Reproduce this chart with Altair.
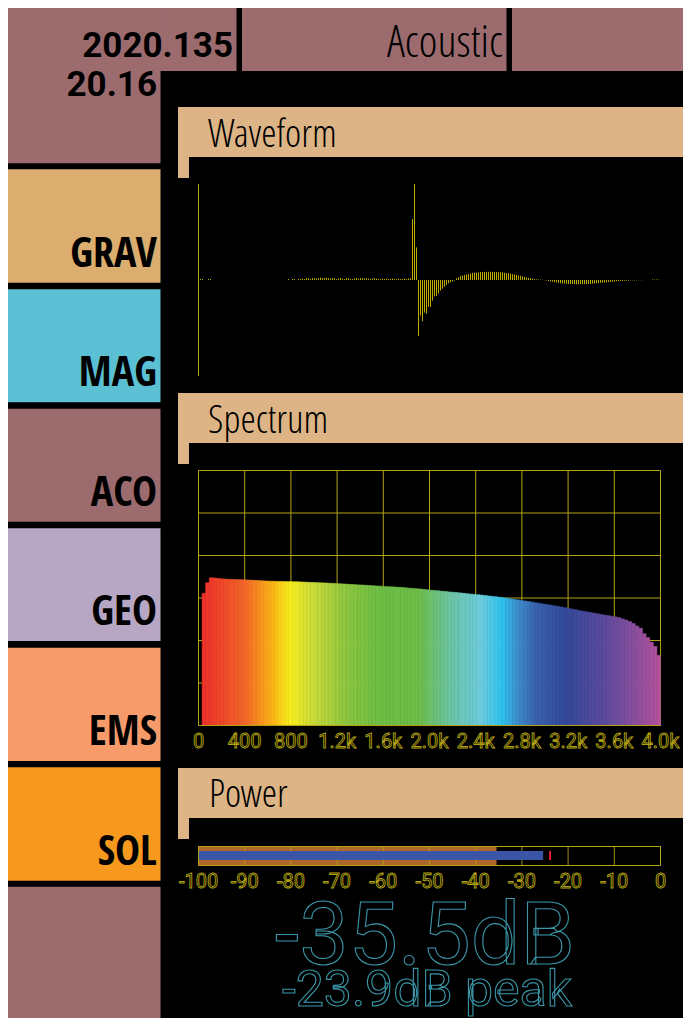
import altair as alt
import pandas as pd

# ---------------- data ----------------
header_date = "2020.135"
header_time = "20.16"
header_title = "Acoustic"
sensor_buttons = ["GRAV", "MAG", "ACO", "GEO", "EMS", "SOL"]
panel_titles = ["Waveform", "Spectrum", "Power"]

# waveform samples (normalised amplitude)
wave_lead = [0.0, 0.01, 0.01, 0.0, 0.0, 0.01, 0.01]
wave_quiet = [0.0, 0.0, 0.0, 0.0, 0.0, 0.0, 0.0, 0.0, 0.0, 0.0,
              0.0, 0.0, 0.0, 0.0, 0.0, 0.0, 0.0, 0.0, 0.0, 0.0,
              0.0, 0.0, 0.0, 0.0, 0.0, 0.0, 0.0, 0.0, 0.0, 0.0,
              0.0, 0.0, 0.0, 0.0, 0.0, 0.0, 0.0, 0.0]
wave_noise = [0.01, 0.0, 0.01, 0.01, 0.0, 0.01,
              0.01, 0.015, 0.01, 0.02, 0.015, 0.01, 0.02, 0.02, 0.015, 0.02,
              0.025, 0.02, 0.02, 0.025, 0.02, 0.015, 0.02, 0.02, 0.01, 0.015,
              0.02, 0.015, 0.01, 0.02, 0.015, 0.01, 0.01, 0.015, 0.02, 0.015,
              0.02, 0.02, 0.015, 0.02, 0.015, 0.01, 0.015, 0.02, 0.015, 0.01,
              0.01, 0.015, 0.01, 0.015, 0.01, 0.01, 0.015, 0.01, 0.01, 0.015,
              0.01, 0.01, 0.015, 0.01, 0.015, 0.02]
wave_event = [0.635, 1.0, 0.34, -0.583, -0.37, -0.43, -0.34, -0.35, -0.28, -0.28,
              -0.215, -0.17, -0.167, -0.14, -0.11, -0.09, -0.07, -0.052, -0.035, -0.024,
              -0.014, -0.005, 0.018, 0.028, 0.042, 0.047, 0.052, 0.058, 0.062, 0.068,
              0.073, 0.076, 0.078, 0.08, 0.082, 0.083, 0.084, 0.085, 0.085, 0.085,
              0.084, 0.084, 0.083, 0.082, 0.08, 0.078, 0.076, 0.073, 0.07, 0.066,
              0.062, 0.057, 0.052, 0.047, 0.042, 0.037, 0.032, 0.027, 0.022, 0.018,
              0.014, 0.01, 0.007, 0.005, 0.003, 0.002]
wave_tail = [-0.002, -0.005, -0.01, -0.014, -0.018, -0.022, -0.026, -0.03, -0.033, -0.036,
             -0.038, -0.04, -0.041, -0.042, -0.043, -0.043, -0.044, -0.044, -0.044, -0.043,
             -0.043, -0.042, -0.041, -0.04, -0.038, -0.036, -0.034, -0.032, -0.03, -0.028,
             -0.026, -0.024, -0.022, -0.02, -0.018, -0.016, -0.014, -0.012, -0.01, -0.009,
             -0.008, -0.007, -0.006, -0.005, -0.004, -0.004, -0.003, -0.003, -0.002, -0.002,
             0.0, 0.0, 0.0, 0.0, 0.005, 0.005, 0.005, 0.005, 0.0]
wave = wave_lead + wave_quiet + wave_noise + wave_event + wave_tail

sample_rate = 8000
fft_size = 256
spectrum_level = [
    0.0, 31.1, 33.6, 34.75, 34.7, 34.6, 34.5, 34.45, 34.4, 34.37,
    34.33, 34.3, 34.28, 34.25, 34.2, 34.15, 34.1, 34.05, 34.0, 33.97,
    33.93, 33.9, 33.88, 33.86, 33.85, 33.83, 33.82, 33.8, 33.76, 33.72,
    33.68, 33.65, 33.62, 33.58, 33.55, 33.51, 33.48, 33.43, 33.38, 33.33,
    33.28, 33.23, 33.18, 33.13, 33.08, 33.03, 32.98, 32.93, 32.88, 32.83,
    32.78, 32.72, 32.67, 32.62, 32.57, 32.52, 32.46, 32.38, 32.32, 32.26,
    32.18, 32.1, 32.0, 31.92, 31.84, 31.76, 31.68, 31.6, 31.52, 31.44,
    31.36, 31.28, 31.19, 31.1, 31.0, 30.92, 30.83, 30.75, 30.67, 30.57,
    30.47, 30.37, 30.27, 30.16, 30.04, 29.93, 29.8, 29.68, 29.55, 29.42,
    29.28, 29.15, 29.02, 28.88, 28.75, 28.6, 28.47, 28.33, 28.18, 28.03,
    27.88, 27.73, 27.57, 27.4, 27.23, 27.05, 26.9, 26.75, 26.6, 26.45,
    26.3, 26.15, 26.0, 25.85, 25.7, 25.55, 25.4, 25.1, 24.8, 24.45,
    24.0, 23.4, 22.9, 21.6, 20.7, 19.6, 18.6, 16.5]
spectrum_ticks = [0, 400, 800, 1200, 1600, 2000, 2400, 2800, 3200, 3600, 4000]
spectrum_tick_labels = ["0", "400", "800", "1.2k", "1.6k", "2.0k", "2.4k",
                        "2.8k", "3.2k", "3.6k", "4.0k"]
spectrum_grid_levels = [0, 10, 20, 30, 40, 50, 60]
rainbow_freq = [0, 400, 640, 790, 1000, 1280, 1570, 1900, 2190, 2450, 2630,
                2770, 2920, 3180, 3480, 3710, 4000]
rainbow_colors = ["#ee2a2b", "#f2662a", "#fbb316", "#f9ed1d", "#c8da3a", "#8dc63f",
                  "#6dbd45", "#6dbd48", "#6cc4a6", "#6ccbdc", "#2ec3ef", "#3d8ccb",
                  "#3a62ad", "#33489a", "#574a9c", "#7c4f9e", "#b5519b"]

power_level_db = -35.5
power_rms_db = -25.4
power_peak_db = -23.9
power_ticks = [-100, -90, -80, -70, -60, -50, -40, -30, -20, -10, 0]

# ---------------- styles / layout (page pixels) ----------------
OX, OY = 8, 8
W, H = 675, 1010
def P(x):
    return x - OX
def Q(y):
    return y - OY

MAUVE = "#9c6b6e"
TAN = "#dcb486"
YEL = "#b3a312"
WAVE_COL = "#bcad00"
TEAL = "#3a98aa"
NARROW_BOLD = "Open Sans Condensed, DejaVu Sans Condensed, sans-serif"
NARROW_LIGHT = "Open Sans Condensed Light, DejaVu Sans Condensed, sans-serif"
ROBOTO = "Roboto, sans-serif"

button_colors = ["#dbad6e", "#5bc0d3", MAUVE, "#b8a7c4", "#f89b6a", "#f7981f"]
button_tops = [169.3, 289.3, 408.7, 528.3, 647.7, 767.3]
button_bottoms = [282.7, 402.3, 521.7, 641.0, 761.0, 880.7]

rects = [
    (8, 8, 236.5, 71, MAUVE),
    (8, 8, 160.5, 163.3, MAUVE),
    (242, 8, 506.5, 71, MAUVE),
    (512, 8, 700, 71, MAUVE),
    (8, 886.7, 160.5, 1040, MAUVE),
]
for c, t, b in zip(button_colors, button_tops, button_bottoms):
    rects.append((8, t, 160.5, b, c))
panel_heads = [(107, 157, 178, 184, 375), (393, 443, 464, 470, 751), (768, 818, 839, 846, 1040)]
for top, bot, tab, bar0, bar1 in panel_heads:
    rects.append((178, top, 700, bot, TAN))
    rects.append((178, bot, 189, tab, TAN))
    rects.append((688, bot, 700, tab + 1, TAN))
    rects.append((688, bar0, 700, bar1, TAN))
frame_df = pd.DataFrame([(P(a), Q(b), P(c), Q(d), e) for a, b, c, d, e in rects],
                        columns=["x", "y", "x2", "y2", "c"])

frame = alt.Chart(frame_df).mark_rect().encode(
    x=alt.X("x:Q", scale=None, axis=None), x2="x2:Q",
    y=alt.Y("y:Q", scale=None, axis=None), y2="y2:Q",
    color=alt.Color("c:N", scale=None, legend=None))

def text_layer(rows, **kw):
    df = pd.DataFrame(rows, columns=["x", "y", "t"])
    return alt.Chart(df).mark_text(baseline="alphabetic", **kw).encode(
        x=alt.X("x:Q", scale=None, axis=None),
        y=alt.Y("y:Q", scale=None, axis=None),
        text="t:N")

head_nums = text_layer([(P(233), Q(57), header_date), (P(157), Q(95.5), header_time)],
                       align="right", font=ROBOTO, fontSize=35, fontWeight="bold", color="#000000")
head_title = text_layer([(P(503), Q(56.5), header_title)],
                        align="right", font=NARROW_LIGHT, fontSize=45, fontWeight=300, color="#000000")
side_labels = text_layer([(P(157), Q(b - 16), s) for s, b in zip(sensor_buttons, button_bottoms)],
                         align="right", font=NARROW_BOLD, fontSize=42, fontWeight="bold", color="#000000")
titles = text_layer([(P(208), Q(147), panel_titles[0]), (P(208), Q(433), panel_titles[1]),
                     (P(209), Q(807), panel_titles[2])],
                    align="left", font=NARROW_LIGHT, fontSize=39, fontWeight=300, color="#000000")

# ---------------- waveform ----------------
wave_df = pd.DataFrame({"sample": list(range(len(wave))), "amp": wave})
wave_df["base"] = 0.0
wx = alt.Scale(domain=[0, len(wave) - 1], range=[P(198) + 0.5, P(660) + 0.5], nice=False, zero=False)
wy = alt.Scale(domain=[-1, 1], range=[Q(376), Q(184)], nice=False, zero=False)
wave_axis = alt.Chart(pd.DataFrame({"sample": [0], "lo": [-1], "hi": [1]})).mark_rule(
    color=YEL, strokeWidth=1).encode(
    x=alt.X("sample:Q", scale=wx, axis=None),
    y=alt.Y("lo:Q", scale=wy, axis=None), y2="hi:Q")
wave_bars = alt.Chart(wave_df).mark_rule(color=WAVE_COL, strokeWidth=1).encode(
    x=alt.X("sample:Q", scale=wx, axis=None),
    y=alt.Y("amp:Q", scale=wy, axis=None), y2="base:Q")

# ---------------- spectrum ----------------
bin_hz = sample_rate / fft_size
spec_df = pd.DataFrame({"bin": list(range(len(spectrum_level))), "level": spectrum_level})
spec_df["f0"] = spec_df["bin"] * bin_hz
spec_df["f1"] = (spec_df["bin"] + 1) * bin_hz
spec_df["fc"] = (spec_df["bin"] + 0.5) * bin_hz
spec_df["base"] = 0.0
sx = alt.Scale(domain=[0, 4000], range=[P(198) + 0.5, P(660) + 0.5], nice=False, zero=False)
sy = alt.Scale(domain=[0, 60], range=[Q(725) + 0.5, Q(470) + 0.5], nice=False, zero=False)
rainbow = alt.Scale(domain=rainbow_freq, range=rainbow_colors, interpolate="rgb")

vgrid_df = pd.DataFrame({"f": spectrum_ticks, "lo": 0, "hi": 60, "label": spectrum_tick_labels})
hgrid_df = pd.DataFrame({"v": spectrum_grid_levels, "lo": 0, "hi": 4000})
spec_vgrid = alt.Chart(vgrid_df).mark_rule(color=YEL, strokeWidth=1).encode(
    x=alt.X("f:Q", scale=sx, axis=None), y=alt.Y("lo:Q", scale=sy, axis=None), y2="hi:Q")
spec_hgrid = alt.Chart(hgrid_df).mark_rule(color=YEL, strokeWidth=1).encode(
    y=alt.Y("v:Q", scale=sy, axis=None), x=alt.X("lo:Q", scale=sx, axis=None), x2="hi:Q")
spec_bars = alt.Chart(spec_df).mark_rect(strokeWidth=0.6).encode(
    x=alt.X("f0:Q", scale=sx, axis=None), x2="f1:Q",
    y=alt.Y("level:Q", scale=sy, axis=None), y2="base:Q",
    color=alt.Color("fc:Q", scale=rainbow, legend=None),
    stroke=alt.Stroke("fc:Q", scale=rainbow, legend=None))
spec_base = alt.Chart(hgrid_df.head(1)).mark_rule(color=YEL, strokeWidth=1).encode(
    y=alt.Y("v:Q", scale=sy, axis=None), x=alt.X("lo:Q", scale=sx, axis=None), x2="hi:Q")
spec_labels = alt.Chart(vgrid_df).mark_text(
    font=ROBOTO, fontSize=20, align="center", baseline="alphabetic",
    fill=YEL, fillOpacity=0, stroke=YEL, strokeWidth=0.9).encode(
    x=alt.X("f:Q", scale=sx, axis=None), y=alt.value(Q(748)), text="label:N")

# ---------------- power ----------------
pxs = alt.Scale(domain=[-100, 0], range=[P(198) + 0.5, P(660) + 0.5], nice=False, zero=False)
pw_df = pd.DataFrame({"lo": [-100], "level": [power_level_db], "rms": [power_rms_db],
                      "peak": [power_peak_db], "hi": [0]})
pw_level = alt.Chart(pw_df).mark_rect(color="#ae672b").encode(
    x=alt.X("lo:Q", scale=pxs, axis=None), x2="level:Q",
    y=alt.value(Q(846)), y2=alt.value(Q(865)))
pticks_df = pd.DataFrame({"db": power_ticks, "label": [str(t) for t in power_ticks]})
pw_grid = alt.Chart(pticks_df).mark_rule(color=YEL, strokeWidth=1, opacity=0.85).encode(
    x=alt.X("db:Q", scale=pxs, axis=None), y=alt.value(Q(846)), y2=alt.value(Q(865)))
pw_rms = alt.Chart(pw_df).mark_rect(color="#3b55a6").encode(
    x=alt.X("lo:Q", scale=pxs, axis=None), x2="rms:Q",
    y=alt.value(Q(851)), y2=alt.value(Q(860)))
pw_peak = alt.Chart(pw_df).mark_rule(color="#e8202a", strokeWidth=2).encode(
    x=alt.X("peak:Q", scale=pxs, axis=None), y=alt.value(Q(851)), y2=alt.value(Q(860)))
pw_box = alt.Chart(pw_df).mark_rect(fillOpacity=0, stroke=YEL, strokeWidth=1).encode(
    x=alt.X("lo:Q", scale=pxs, axis=None), x2="hi:Q",
    y=alt.value(Q(846) + 0.5), y2=alt.value(Q(865) + 0.5))
pw_labels = alt.Chart(pticks_df).mark_text(
    font=ROBOTO, fontSize=20, align="center", baseline="alphabetic",
    fill=YEL, fillOpacity=0, stroke=YEL, strokeWidth=0.9).encode(
    x=alt.X("db:Q", scale=pxs, axis=None), y=alt.value(Q(887.5)), text="label:N")

big_df = pd.DataFrame({"t": [f"{power_level_db:.1f}dB"]})
peak_df = pd.DataFrame({"t": [f"{power_peak_db:.1f}dB peak"]})
big_text = alt.Chart(big_df).mark_text(
    font=ROBOTO, fontSize=88, align="center", baseline="alphabetic",
    fill=TEAL, fillOpacity=0, stroke=TEAL, strokeWidth=1.1).encode(
    x=alt.value(P(425)), y=alt.value(Q(964)), text="t:N")
peak_text = alt.Chart(peak_df).mark_text(
    font=ROBOTO, fontSize=50, align="center", baseline="alphabetic",
    fill=TEAL, fillOpacity=0, stroke=TEAL, strokeWidth=1.1).encode(
    x=alt.value(P(427)), y=alt.value(Q(1006)), text="t:N")

chart = alt.layer(
    frame, head_nums, head_title, side_labels, titles,
    wave_axis, wave_bars,
    spec_vgrid, spec_hgrid, spec_bars, spec_base, spec_labels,
    pw_level, pw_grid, pw_rms, pw_peak, pw_box, pw_labels,
    big_text, peak_text,
).resolve_scale(
    x="independent", y="independent", color="independent", stroke="independent"
).properties(
    width=W, height=H, background="#000000", padding=0,
    autosize=alt.AutoSizeParams(type="none"),
).configure_view(strokeWidth=0)

chart.save("out.html", embed_options={"renderer": "svg", "actions": False})
